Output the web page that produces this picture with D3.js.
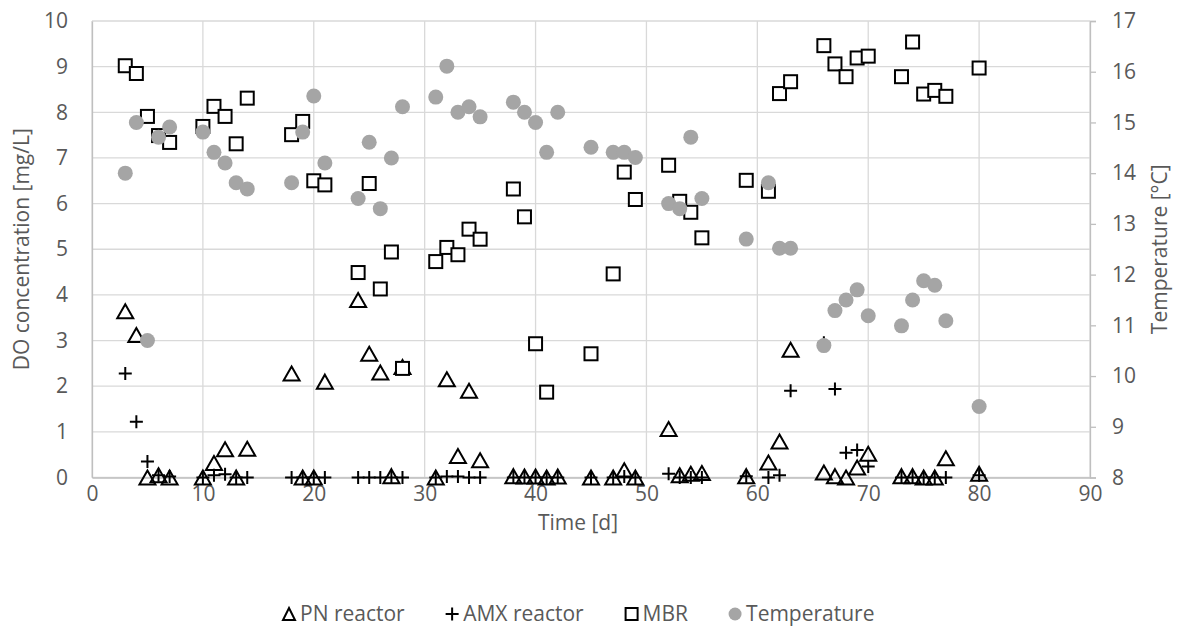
<!DOCTYPE html>
<html><head><meta charset="utf-8">
<script src="https://cdn.jsdelivr.net/npm/d3@7"></script>
<style>body{margin:0;background:#fff}svg{display:block;font-family:"Open Sans",sans-serif}</style>
</head><body><svg id="c" width="1182" height="632"></svg>
<script>
const days = [3,4,5,6,7,10,11,12,13,14,18,19,20,21,24,25,26,27,28,31,32,33,34,35,38,39,40,41,42,45,47,48,49,52,53,54,55,59,61,62,63,66,67,68,69,70,73,74,75,76,77,80];
const pnReactor = [3.64,3.12,0,0.05,0,0,0.32,0.62,0,0.63,2.28,0,0,2.1,3.89,2.71,2.3,0.03,2.42,0,2.15,0.47,1.9,0.38,0.03,0.02,0.02,0,0.02,0,0,0.16,0,1.06,0.05,0.08,0.1,0.03,0.33,0.79,2.8,0.11,0.03,0,0.22,0.52,0.03,0.03,0,0,0.42,0.08];
const amxReactor = [2.28,1.22,0.35,0.05,0.02,0,0.05,0.07,0,0,0,0,0,0,0,0,0,0,0,0,0.02,0.02,0,0,0,0,0,0,0,0,0,0.02,0,0.08,0,0,0,0.03,0,0.05,1.9,2.95,1.94,0.54,0.6,0.24,0,0,0,0,0,0.05];
const mbr = [9.02,8.85,7.91,7.49,7.34,7.69,8.13,7.91,7.31,8.31,7.51,7.8,6.5,6.41,4.49,6.44,4.13,4.94,2.39,4.73,5.04,4.88,5.44,5.22,6.32,5.71,2.93,1.87,null,2.71,4.46,6.69,6.09,6.84,6.05,5.81,5.25,6.51,6.27,8.41,8.67,9.46,9.06,8.78,9.19,9.23,8.78,9.54,8.4,8.48,8.35,8.97];
const temperature = [14.0,15.0,10.7,14.71,14.91,14.81,14.41,14.2,13.81,13.69,13.81,14.81,15.52,14.2,13.5,14.61,13.3,14.3,15.31,15.5,16.11,15.2,15.31,15.11,15.4,15.2,15.0,14.41,15.2,14.51,14.41,14.41,14.31,13.4,13.3,14.71,13.5,12.7,13.81,12.52,12.52,10.6,11.29,11.5,11.7,11.19,10.99,11.5,11.88,11.79,11.09,9.4];
const xTicks = [0,10,20,30,40,50,60,70,80,90];
const yLeftTicks = [0,1,2,3,4,5,6,7,8,9,10];
const yRightTicks = [8,9,10,11,12,13,14,15,16,17];
const legendLabels = ["PN reactor","AMX reactor","MBR","Temperature"];

const svg = d3.select("#c");
const L=92,R=1090,T=21,B=477.5;
const x = d3.scaleLinear([0,90],[L,R]);
const yL = d3.scaleLinear([0,10],[B,T]);
const yR = d3.scaleLinear([8,17],[B,T]);
const grid="#d9d9d9", txt="#595959", FS=21;

// gridlines
svg.append("g").selectAll("line").data(yLeftTicks).join("line")
  .attr("x1",L).attr("x2",R).attr("y1",d=>yL(d)).attr("y2",d=>yL(d))
  .attr("stroke",grid).attr("stroke-width",1.3);
svg.append("g").selectAll("line").data(xTicks).join("line")
  .attr("y1",T).attr("y2",B).attr("x1",d=>x(d)).attr("x2",d=>x(d))
  .attr("stroke",grid).attr("stroke-width",1.3);

// axes
const axL = svg.append("g").attr("transform",`translate(${L},0)`).call(d3.axisLeft(yL).tickValues(yLeftTicks).tickSize(0).tickPadding(24));
const axB = svg.append("g").attr("transform",`translate(0,${B})`).call(d3.axisBottom(x).tickValues(xTicks).tickSize(0).tickPadding(9));
const axR = svg.append("g").attr("transform",`translate(${R},0)`).call(d3.axisRight(yR).tickValues(yRightTicks).tickSize(6).tickPadding(16));
[axL,axB,axR].forEach(a=>{
  a.select(".domain").attr("stroke","#bfbfbf").attr("stroke-width",1.3);
  a.selectAll(".tick line").attr("stroke","#bfbfbf").attr("stroke-width",1.3);
  a.selectAll("text").attr("fill",txt).style("font-size",FS+"px").style("font-family","'Open Sans',sans-serif");
});

// titles
svg.append("text").attr("x",578).attr("y",530).attr("text-anchor","middle").attr("fill",txt).style("font-size",FS+"px").text("Time [d]");
svg.append("text").attr("transform",`translate(29,${(T+B)/2}) rotate(-90)`).attr("text-anchor","middle").attr("fill",txt).style("font-size",FS+"px").text("DO concentration [mg/L]");
svg.append("text").attr("transform",`translate(1167,${(T+B)/2}) rotate(-90)`).attr("text-anchor","middle").attr("fill",txt).style("font-size",FS+"px").text("Temperature [°C]");

const triPath = (w,h)=>`M0,${-h/2}L${w/2},${h/2}L${-w/2},${h/2}Z`;
const plusPath = s=>`M${-s/2},0H${s/2}M0,${-s/2}V${s/2}`;

const idx = d3.range(days.length);
// PN triangles
svg.append("g").selectAll("path").data(idx.filter(i=>pnReactor[i]!=null)).join("path")
  .attr("transform",i=>`translate(${x(days[i])},${yL(pnReactor[i])})`)
  .attr("d",triPath(16,14)).attr("fill","none").attr("stroke","#000").attr("stroke-width",2);
// AMX plus
svg.append("g").selectAll("path").data(idx.filter(i=>amxReactor[i]!=null)).join("path")
  .attr("transform",i=>`translate(${x(days[i])},${yL(amxReactor[i])})`)
  .attr("d",plusPath(13)).attr("fill","none").attr("stroke","#000").attr("stroke-width",2);
// MBR squares
svg.append("g").selectAll("rect").data(idx.filter(i=>mbr[i]!=null)).join("rect")
  .attr("x",i=>x(days[i])-6.5).attr("y",i=>yL(mbr[i])-6.5).attr("width",13).attr("height",13)
  .attr("fill","#fff").attr("stroke","#000").attr("stroke-width",2);
// Temperature circles
svg.append("g").selectAll("circle").data(idx.filter(i=>temperature[i]!=null)).join("circle")
  .attr("cx",i=>x(days[i])).attr("cy",i=>yR(temperature[i])).attr("r",7.5).attr("fill","#a5a5a5");

// legend
const lg = svg.append("g");
const ly = 614;
const items = lg.selectAll("g").data(legendLabels).join("g");
items.each(function(d,i){
  const g = d3.select(this);
  if(i===0) g.append("path").attr("transform","translate(6,0)").attr("d",triPath(12,12)).attr("fill","none").attr("stroke","#000").attr("stroke-width",2);
  if(i===1) g.append("path").attr("transform","translate(6,0)").attr("d",plusPath(13)).attr("fill","none").attr("stroke","#000").attr("stroke-width",2);
  if(i===2) g.append("rect").attr("x",0).attr("y",-6).attr("width",12).attr("height",12).attr("fill","#fff").attr("stroke","#000").attr("stroke-width",2);
  if(i===3) g.append("circle").attr("cx",6).attr("cy",0).attr("r",6.5).attr("fill","#a5a5a5");
  g.append("text").attr("x",17).attr("y",7).attr("fill",txt).style("font-size",FS+"px").text(d);
});
const widths = [];
items.each(function(){ widths.push(this.getBBox().width); });
const startX = 283, endX = 875;
const gap = (endX-startX - d3.sum(widths))/3;
let cx = startX;
items.each(function(d,i){ d3.select(this).attr("transform",`translate(${cx},${ly})`); cx += widths[i]+gap; });
</script></body></html>
